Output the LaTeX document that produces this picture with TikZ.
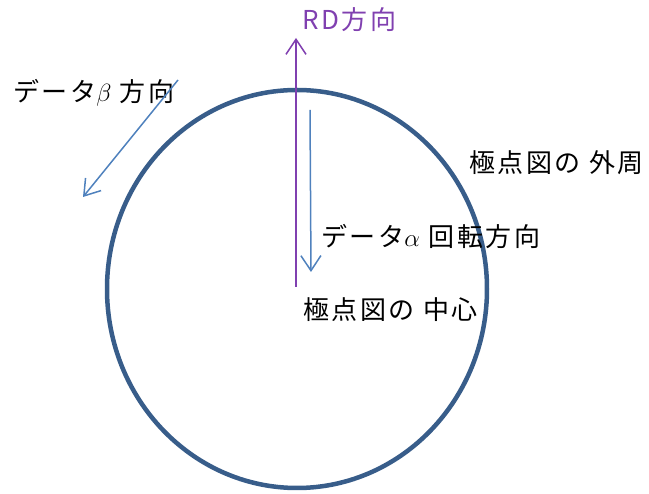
\documentclass[tikz,border=0pt]{standalone}
\usepackage{fontspec}
\setmainfont[LetterSpace=10]{Noto Sans CJK JP}
\usetikzlibrary{arrows.meta}
\definecolor{rimblue}{RGB}{56,93,138}
\definecolor{arrowblue}{RGB}{79,129,189}
\definecolor{rdpurple}{RGB}{128,64,176}
\begin{document}
\begin{tikzpicture}[x=1pt, y=-1pt,
    every node/.style={inner sep=0pt, anchor=west, font=\fontsize{26}{29}\selectfont},
    rim/.style={draw=rimblue, line width=4.5pt},
    barb/.style={-{Straight Barb[length=15pt, width=20pt, line width=1.5pt]}, line width=1.5pt}]
\useasboundingbox (0,0) rectangle (649,494);
\draw [rim] (297,289) ellipse [x radius=190, y radius=199];

\coordinate (center) at (296,287);
\coordinate (rdtip) at (296,38);
\coordinate (alphafrom) at (310,110);
\coordinate (alphato) at (311,272);
\coordinate (betafrom) at (178,80);
\coordinate (betato) at (83,197);

\node (rd) [text=rdpurple] at (302,20) {RD方向};
\node (beta) at (13,93) {データ$\beta$ 方向};
\node (alpha) at (321,237) {データ$\alpha$ 回転方向};
\node (rim) at (469,163) {極点図の 外周};
\node (mid) at (303,310) {極点図の 中心};

\draw [barb, rdpurple] (center) -- (rdtip);
\draw [barb, arrowblue] (alphafrom) -- (alphato);
\draw [barb, arrowblue] (betafrom) -- (betato);

\end{tikzpicture}
\end{document}
